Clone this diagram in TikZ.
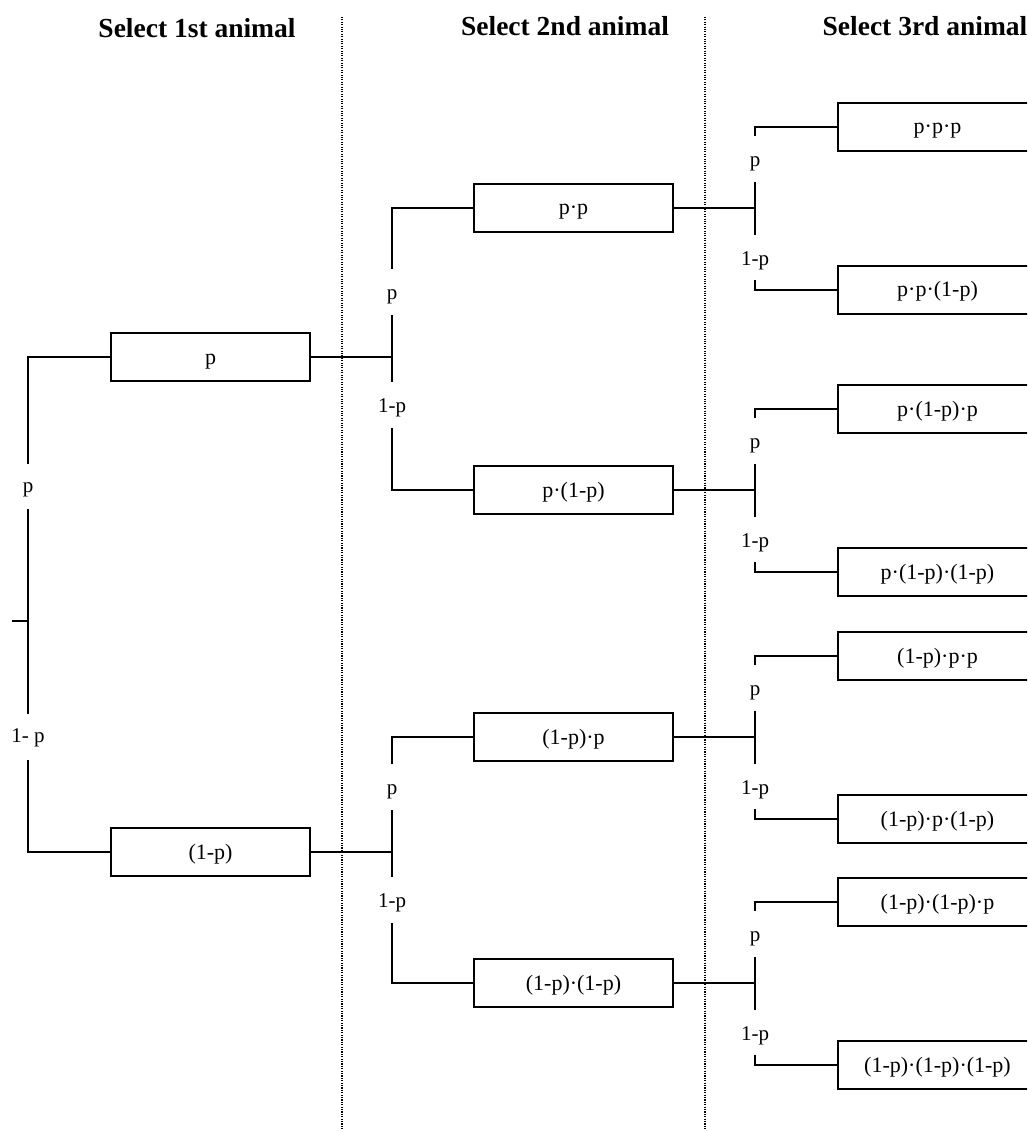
\documentclass[tikz,border=0pt]{standalone}
\usepackage{fontspec}
\setmainfont{Liberation Serif}
\tikzset{
  box/.style={draw, line width=1.8pt, minimum width=199pt, minimum height=48pt, inner sep=0pt, text height=19pt, text depth=5pt, font=\fontsize{22}{24}\selectfont},
  wire/.style={line width=1.3pt},
  lbl/.style={inner sep=0pt, font=\fontsize{21}{23}\selectfont},
  ttl/.style={font=\fontsize{27.5}{30}\selectfont\bfseries},
  sepline/.style={line width=1.1pt, dash pattern=on 1.1pt off 1.3pt}
}
\begin{document}
\begin{tikzpicture}[x=1pt,y=-1pt]
\useasboundingbox (0,0) rectangle (1027,1131);
\clip (0,0) rectangle (1027,1131);

% titles
\node[ttl] (t1) at (197,28) {Select 1st animal};
\node[ttl] (t2) at (565,26) {Select 2nd animal};
\node[ttl] (t3) at (925,26) {Select 3rd animal};

% separators
\coordinate (s1a) at (342,17); \coordinate (s1b) at (342,1131);
\coordinate (s2a) at (705,17); \coordinate (s2b) at (705,1131);
\draw[sepline] (s1a) -- (s1b);
\draw[sepline] (s2a) -- (s2b);

% level 1
\node[box] (b1) at (210.5,357) {p};
\node[box] (b2) at (210.5,852) {(1-p)};
\coordinate (r0) at (12,621);
\coordinate (r) at (28,621);
\coordinate (r-a) at (28,464);
\coordinate (r-b) at (28,509);
\coordinate (r-c) at (28,714);
\coordinate (r-d) at (28,760);
\node[lbl] (r-p) at (28,490) {p};
\node[lbl] (r-q) at (28,738) {1- p};
\draw[wire] (r0) -- (r);
\draw[wire] (r-a) |- (b1.west);
\draw[wire] (r-b) -- (r-c);
\draw[wire] (r-d) |- (b2.west);

% level 2
\node[box] (b11) at (573.5,208) {p·p};
\node[box] (b12) at (573.5,490) {p·(1-p)};
\node[box] (b21) at (573.5,737) {(1-p)·p};
\node[box] (b22) at (573.5,983) {(1-p)·(1-p)};

\foreach \j/\n in {357/1, 852/2} {
  \coordinate (j\n) at (392,\j);
  \coordinate (j\n-a) at (392,{\j-88});
  \coordinate (j\n-b) at (392,{\j-42});
  \coordinate (j\n-c) at (392,{\j+25});
  \coordinate (j\n-d) at (392,{\j+71});
  \node[lbl] (j\n-p) at (392,{\j-60}) {p};
  \node[lbl] (j\n-q) at (392,{\j+51}) {1-p};
  \draw[wire] (j\n-a) |- (b\n1.west);
  \draw[wire] (j\n-b) -- (j\n-c);
  \draw[wire] (j\n-d) |- (b\n2.west);
}
\draw[wire] (b1.east) -- (j1);
\draw[wire] (b2.east) -- (j2);

% level 3
\foreach \j/\n/\ta/\tb in {208/a/{p·p·p}/{p·p·(1-p)},
                          490/b/{p·(1-p)·p}/{p·(1-p)·(1-p)},
                          737/c/{(1-p)·p·p}/{(1-p)·p·(1-p)},
                          983/d/{(1-p)·(1-p)·p}/{(1-p)·(1-p)·(1-p)}} {
  \node[box] (c\n1) at (937.5,{\j-81}) {\ta};
  \node[box] (c\n2) at (937.5,{\j+82}) {\tb};
  \coordinate (k\n) at (755,\j);
  \coordinate (k\n-a) at (755,{\j-72});
  \coordinate (k\n-b) at (755,{\j-26});
  \coordinate (k\n-c) at (755,{\j+27});
  \coordinate (k\n-d) at (755,{\j+72});
  \node[lbl] (k\n-p) at (755,{\j-44}) {p};
  \node[lbl] (k\n-q) at (755,{\j+53}) {1-p};
  \draw[wire] (k\n-a) |- (c\n1.west);
  \draw[wire] (k\n-b) -- (k\n-c);
  \draw[wire] (k\n-d) |- (c\n2.west);
}
\draw[wire] (b11.east) -- (ka);
\draw[wire] (b12.east) -- (kb);
\draw[wire] (b21.east) -- (kc);
\draw[wire] (b22.east) -- (kd);
\end{tikzpicture}
\end{document}
